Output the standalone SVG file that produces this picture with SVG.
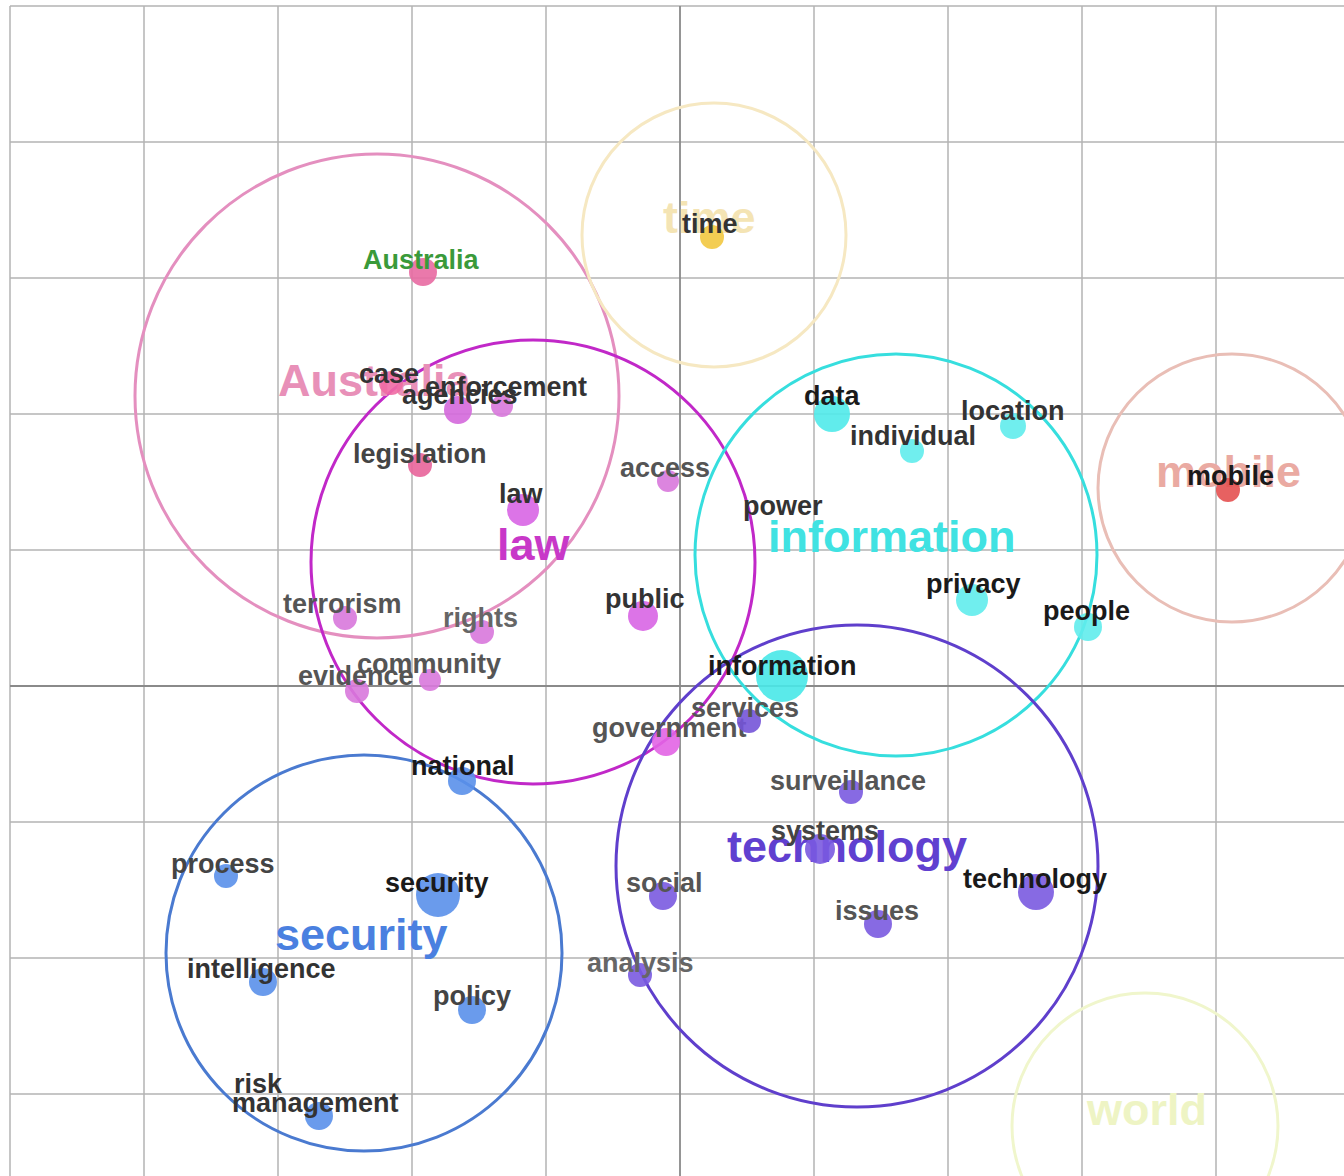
<svg xmlns="http://www.w3.org/2000/svg" width="1344" height="1176" viewBox="0 0 1344 1176">
<style>
.grid{stroke:#b4b4b4;stroke-width:1.5;fill:none}
.axis{stroke:#8a8a8a;stroke-width:1.8;fill:none}
.ring{fill:none;stroke-width:3}
.big{font-family:"Liberation Sans",Arial,sans-serif;font-weight:bold;font-size:45px}
.lbl{font-family:"Liberation Sans",Arial,sans-serif;font-weight:bold;font-size:27px;fill:#333}
.g1{fill:#555}
.g2{fill:#1a1a1a}
.dot{opacity:0.9}
</style>
<rect x="0" y="0" width="1344" height="1176" fill="#ffffff"/>
<g id="grid">
<path class="grid" d="M10 6V1176M144 6V1176M278 6V1176M412 6V1176M546 6V1176M814 6V1176M948 6V1176M1082 6V1176M1216 6V1176"/>
<path class="grid" d="M10 6H1344M10 142H1344M10 278H1344M10 414H1344M10 550H1344M10 822H1344M10 958H1344M10 1094H1344"/>
<path class="axis" d="M680 6V1176M10 686H1344"/>
</g>
<g id="clusters">
<g id="cluster-australia"><circle class="ring" cx="377" cy="396" r="242" stroke="#e48fbf" stroke-width="2.5"/></g>
<g id="cluster-time"><circle class="ring" cx="714" cy="235" r="132" stroke="#f6e8c2"/></g>
<g id="cluster-law"><circle class="ring" cx="533" cy="562" r="222" stroke="#c128c8"/></g>
<g id="cluster-information"><circle class="ring" cx="896" cy="555" r="201" stroke="#36dede" stroke-width="3.5"/></g>
<g id="cluster-mobile"><circle class="ring" cx="1232" cy="488" r="134" stroke="#e9beb6" stroke-width="2.5"/></g>
<g id="cluster-security"><circle class="ring" cx="364" cy="953" r="198" stroke="#4a7ad0" stroke-width="2.5"/></g>
<g id="cluster-technology"><circle class="ring" cx="857" cy="866" r="241" stroke="#5f3fcc"/></g>
<g id="cluster-world"><circle class="ring" cx="1145" cy="1126" r="133" stroke="#f0f6cc"/></g>
</g>
<g id="cluster-labels">
<text class="big" x="278" y="396" font-size="42" fill="#e890b8">Australia</text>
<text class="big" x="663" y="233" fill="#f4e4b4">time</text>
<text class="big" x="497" y="560" fill="#c838c8">law</text>
<text class="big" x="768" y="552" fill="#40e2e2">information</text>
<text class="big" x="1156" y="487" fill="#eaaaa2">mobile</text>
<text class="big" x="275" y="950" fill="#4a80e0">security</text>
<text class="big" x="727" y="862" fill="#6040d0">technology</text>
<text class="big" x="1087" y="1125" font-size="42" fill="#eef4c4">world</text>
</g>
<g id="connectors"></g>
<g id="nodes">
<g id="n-australia"><circle class="dot" cx="423" cy="272" r="14" fill="#e86aa2"/><text class="lbl" x="363" y="269" style="fill:#3a9a3a">Australia</text></g>
<g id="n-case"><circle class="dot" cx="391" cy="383" r="12" fill="#f06aa4"/><text class="lbl" x="359" y="383">case</text></g>
<g id="n-agencies"><circle class="dot" cx="458" cy="410" r="14" fill="#d468dc"/></g>
<g id="n-enforcement"><circle class="dot" cx="502" cy="406" r="11" fill="#d878dc"/><text class="lbl" x="425" y="396">enforcement</text></g>
<g id="n-agencies-label"><text class="lbl" x="402" y="404">agencies</text></g>
<g id="n-legislation"><circle class="dot" cx="420" cy="465" r="12" fill="#e8649a"/><text class="lbl" x="353" y="463" style="fill:#444">legislation</text></g>
<g id="n-law"><circle class="dot" cx="523" cy="510" r="16" fill="#d865e4"/><text class="lbl" x="499" y="503">law</text></g>
<g id="n-access"><circle class="dot" cx="668" cy="481" r="11" fill="#d878dc"/><text class="lbl g1" x="620" y="477">access</text></g>
<g id="n-terrorism"><circle class="dot" cx="345" cy="618" r="12" fill="#d878dc"/><text class="lbl g1" x="283" y="613">terrorism</text></g>
<g id="n-rights"><circle class="dot" cx="482" cy="632" r="12" fill="#d878dc"/><text class="lbl" x="443" y="627" style="fill:#666">rights</text></g>
<g id="n-public"><circle class="dot" cx="643" cy="616" r="15" fill="#d865e4"/><text class="lbl" x="605" y="608">public</text></g>
<g id="n-community"><circle class="dot" cx="430" cy="680" r="11" fill="#d878dc"/><text class="lbl g1" x="357" y="673">community</text></g>
<g id="n-evidence"><circle class="dot" cx="357" cy="691" r="12" fill="#d878dc"/><text class="lbl g1" x="298" y="685">evidence</text></g>
<g id="n-government"><circle class="dot" cx="666" cy="742" r="14" fill="#e264e4"/><text class="lbl g1" x="592" y="737">government</text></g>
<g id="n-power"><text class="lbl" x="743" y="515">power</text></g>
<g id="n-data"><circle class="dot" cx="832" cy="414" r="18" fill="#50eaea"/><text class="lbl g2" x="804" y="405">data</text></g>
<g id="n-location"><circle class="dot" cx="1013" cy="426" r="13" fill="#60ecec"/><text class="lbl" x="961" y="420">location</text></g>
<g id="n-individual"><circle class="dot" cx="912" cy="451" r="12" fill="#60ecec"/><text class="lbl" x="850" y="445">individual</text></g>
<g id="n-privacy"><circle class="dot" cx="972" cy="600" r="16" fill="#60ecec"/><text class="lbl g2" x="926" y="593">privacy</text></g>
<g id="n-people"><circle class="dot" cx="1088" cy="627" r="14" fill="#60ecec"/><text class="lbl g2" x="1043" y="620">people</text></g>
<g id="n-information"><circle class="dot" cx="782" cy="676" r="26" fill="#48e8e8"/><text class="lbl g2" x="708" y="675">information</text></g>
<g id="n-services"><circle class="dot" cx="749" cy="721" r="12" fill="#7454d8"/><text class="lbl g1" x="691" y="717">services</text></g>
<g id="n-mobile"><circle class="dot" cx="1228" cy="490" r="12" fill="#e45050"/><text class="lbl g2" x="1187" y="485">mobile</text></g>
<g id="n-time"><circle class="dot" cx="712" cy="237" r="12" fill="#f2c840"/><text class="lbl" x="682" y="233">time</text></g>
<g id="n-surveillance"><circle class="dot" cx="851" cy="792" r="12" fill="#7a5ae0"/><text class="lbl g1" x="770" y="790">surveillance</text></g>
<g id="n-systems"><circle class="dot" cx="820" cy="849" r="15" fill="#7a5ae0"/><text class="lbl" x="771" y="840" style="fill:#444">systems</text></g>
<g id="n-social"><circle class="dot" cx="663" cy="896" r="14" fill="#7a5ae0"/><text class="lbl g1" x="626" y="892">social</text></g>
<g id="n-issues"><circle class="dot" cx="878" cy="924" r="14" fill="#7a5ae0"/><text class="lbl g1" x="835" y="920">issues</text></g>
<g id="n-technology"><circle class="dot" cx="1036" cy="892" r="18" fill="#7a5ae0"/><text class="lbl g2" x="963" y="888">technology</text></g>
<g id="n-analysis"><circle class="dot" cx="640" cy="975" r="12" fill="#7a5ae0"/><text class="lbl" x="587" y="972" style="fill:#666">analysis</text></g>
<g id="n-national"><circle class="dot" cx="462" cy="781" r="14" fill="#5a90ea"/><text class="lbl g2" x="411" y="775">national</text></g>
<g id="n-process"><circle class="dot" cx="226" cy="876" r="12" fill="#5a90ea"/><text class="lbl" x="171" y="873" style="fill:#444">process</text></g>
<g id="n-security"><circle class="dot" cx="438" cy="895" r="22" fill="#5a90ea"/><text class="lbl g2" x="385" y="892">security</text></g>
<g id="n-intelligence"><circle class="dot" cx="263" cy="982" r="14" fill="#5a90ea"/><text class="lbl" x="187" y="978">intelligence</text></g>
<g id="n-policy"><circle class="dot" cx="472" cy="1010" r="14" fill="#5a90ea"/><text class="lbl" x="433" y="1005" style="fill:#444">policy</text></g>
<g id="n-risk"><text class="lbl" x="234" y="1093">risk</text></g>
<g id="n-management"><circle class="dot" cx="319" cy="1116" r="14" fill="#5a90ea"/><text class="lbl" x="232" y="1112">management</text></g>
</g>
</svg>
